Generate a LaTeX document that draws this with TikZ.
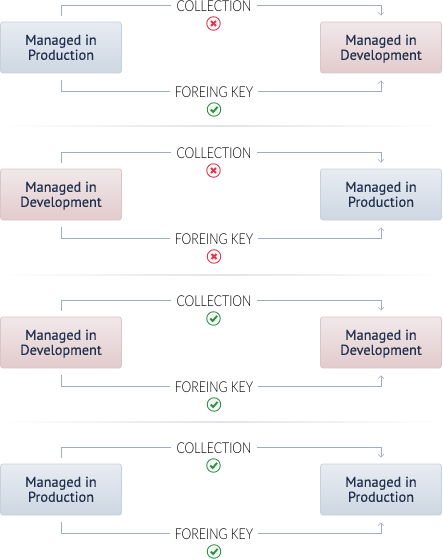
\documentclass[tikz,border=0pt]{standalone}
\usepackage{fontspec}
\usetikzlibrary{arrows.meta}
\newfontfamily\boxfont[FakeBold=0.15]{PT Sans}
\newfontfamily\labfont[FakeStretch=0.82]{Lato Light}
\definecolor{txtc}{HTML}{1F2F4C}
\definecolor{linec}{HTML}{9FAEBE}
\newcommand{\linefix}{\vphantom{Mgy}}
\newcommand{\firstfix}{\rule{0pt}{12.6pt}\vphantom{Mgy}}
\tikzset{
  boxbase/.style={rounded corners=2.5pt,minimum width=121pt,minimum height=51pt,inner sep=0pt,line width=.7pt,
    align=center,text=txtc,font=\boxfont\fontsize{14.3}{15}\selectfont},
  prod/.style={boxbase,draw=prodb,top color=proda,bottom color=prodc},
  devel/.style={boxbase,draw=devb,top color=deva,bottom color=devc},
  lab/.style={inner xsep=5pt,inner ysep=0pt,text=black,text height=12.4pt,text depth=0pt,font=\labfont\fontsize{15}{15}\selectfont},
  conn/.style={draw=linec,line width=.8pt},
  tip/.style={-{Straight Barb[length=3pt,width=6pt,line width=.5pt]}},
  badge/.style={circle,minimum size=13.5pt,inner sep=0pt,line width=.9pt,fill=white},
  bad/.style={badge,draw=badc,path picture={
    \fill[badin] (path picture bounding box.center) circle (5pt);
    \draw[badc,line width=1.9pt] ([shift={(-2.4pt,-2.4pt)}]path picture bounding box.center) -- ([shift={(2.4pt,2.4pt)}]path picture bounding box.center);
    \draw[badc,line width=1.9pt] ([shift={(-2.4pt,2.4pt)}]path picture bounding box.center) -- ([shift={(2.4pt,-2.4pt)}]path picture bounding box.center);}},
  good/.style={badge,draw=goodc,path picture={
    \fill[goodin] (path picture bounding box.center) circle (5pt);
    \draw[goodc,line width=1.9pt] ([shift={(-3.2pt,0pt)}]path picture bounding box.center) -- ([shift={(-.8pt,-2.4pt)}]path picture bounding box.center) -- ([shift={(3.6pt,2.6pt)}]path picture bounding box.center);}},
  seprule/.style={left color=white,right color=white,middle color=sepc,draw=none},
}
\definecolor{proda}{HTML}{E8ECF3}\definecolor{prodc}{HTML}{CDD7E2}\definecolor{prodb}{HTML}{C6D1DB}
\definecolor{deva}{HTML}{F1E8EA}\definecolor{devc}{HTML}{E2CBCC}\definecolor{devb}{HTML}{DAC6C6}
\definecolor{badc}{HTML}{D9374F}\definecolor{badin}{HTML}{FBEFF0}
\definecolor{goodc}{HTML}{2F8F46}\definecolor{goodin}{HTML}{EEF7EE}
\definecolor{sepc}{HTML}{E2E4E7}
% #1 id, #2 row offset, #3 left style, #4 left text, #5 right style, #6 right text, #7 top badge, #8 bottom badge
\newcommand{\rowblock}[8]{
  \begin{scope}[shift={(0,#2)}]
    \node[#3] (l#1) at (61,47.5) {\firstfix Managed in\\\linefix #4};
    \node[#5] (r#1) at (381,47.5) {\firstfix Managed in\\\linefix #6};
    \node[lab] (c#1) at (214,5.3) {COLLECTION};
    \node[lab] (f#1) at (214,91.3) {FOREING KEY};
    \node[#7] (bt#1) at (213.5,23.5) {};
    \node[#8] (bb#1) at (214,109.5) {};
    \draw[conn,shorten <=6pt] (l#1.north) |- (c#1.west);
    \draw[conn,tip,shorten >=6pt] (c#1.east) -| (r#1.north);
    \draw[conn,shorten <=7pt] (l#1.south) |- (f#1.west);
    \draw[conn,tip,shorten >=7pt] (f#1.east) -| (r#1.south);
  \end{scope}
}
\begin{document}
\begin{tikzpicture}[x=1pt,y=-1pt]
  \useasboundingbox (0,0) rectangle (442,559);
  \rowblock{1}{0}{prod}{Production}{devel}{Development}{bad}{good}
  \rowblock{2}{147}{devel}{Development}{prod}{Production}{bad}{bad}
  \rowblock{3}{295}{devel}{Development}{devel}{Development}{good}{good}
  \rowblock{4}{442}{prod}{Production}{prod}{Production}{good}{good}
  \fill[seprule] (0,126) rectangle (442,127);
  \fill[seprule] (0,274) rectangle (442,275);
  \fill[seprule] (0,421) rectangle (442,422);
\end{tikzpicture}
\end{document}
